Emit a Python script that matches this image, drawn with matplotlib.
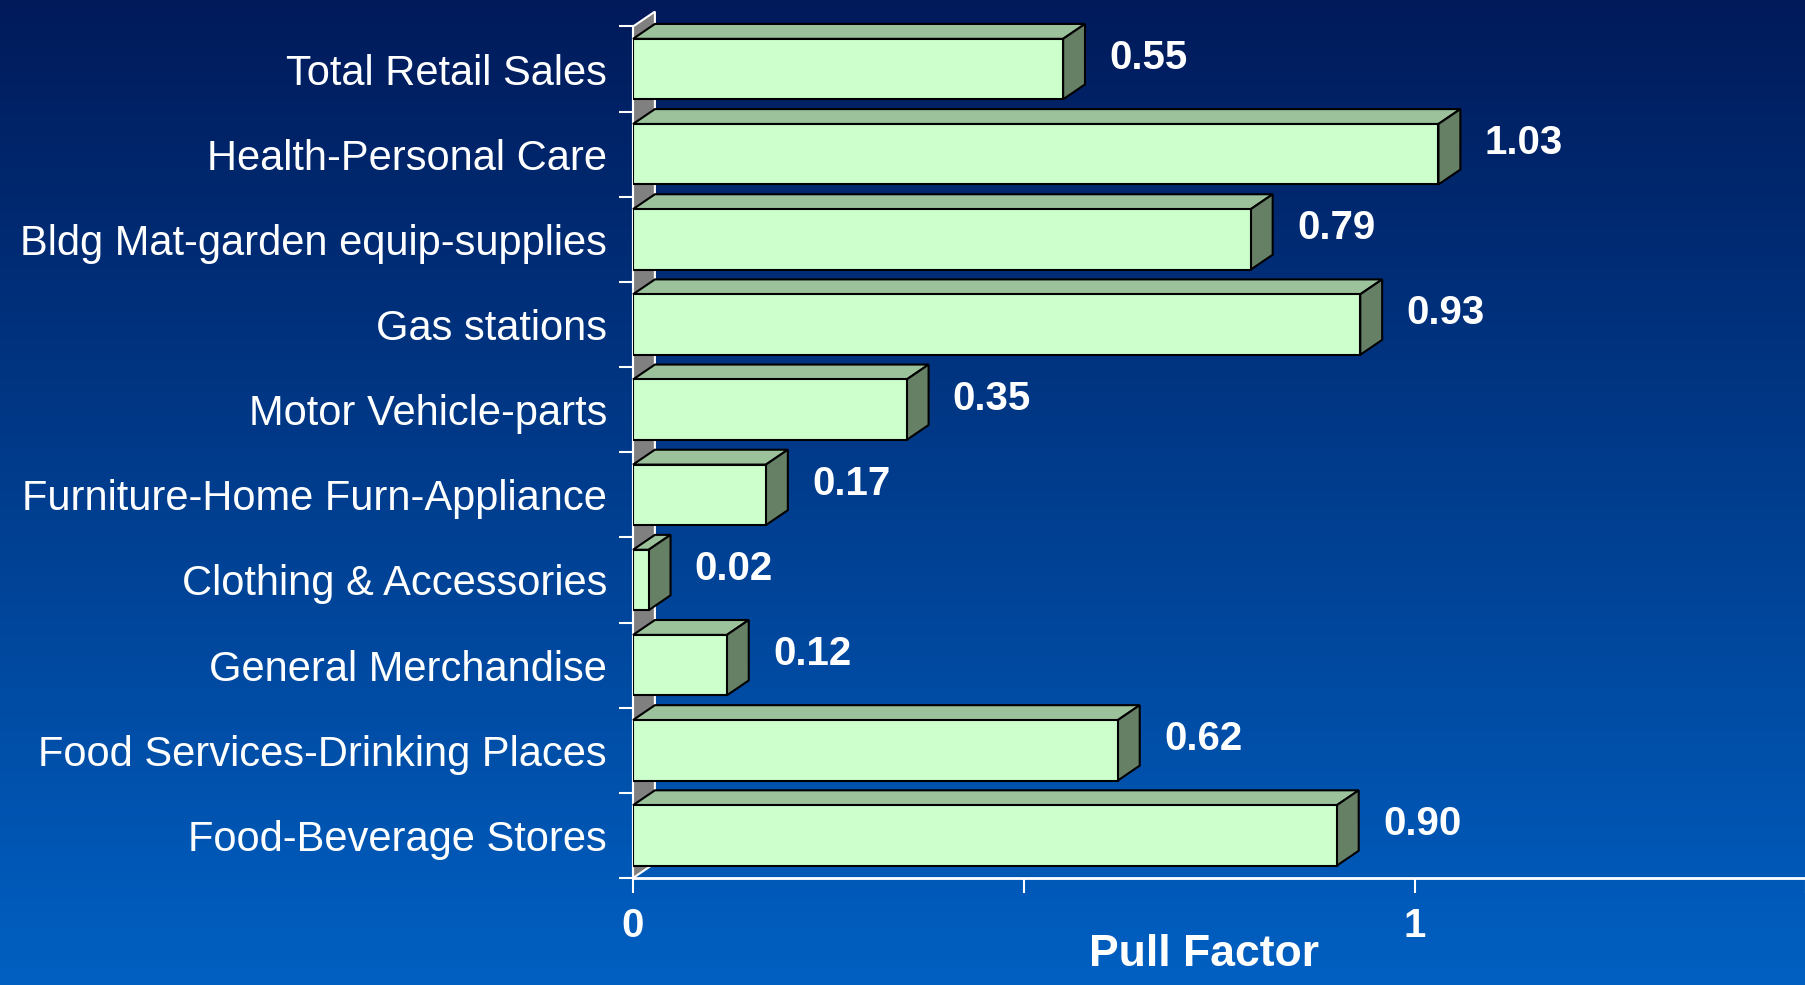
import numpy as np
import matplotlib.pyplot as plt
from matplotlib import font_manager
from matplotlib.patches import Polygon
from matplotlib.colors import LinearSegmentedColormap

categories = [
    "Total Retail Sales",
    "Health-Personal Care",
    "Bldg Mat-garden equip-supplies",
    "Gas stations",
    "Motor Vehicle-parts",
    "Furniture-Home Furn-Appliance",
    "Clothing & Accessories",
    "General Merchandise",
    "Food Services-Drinking Places",
    "Food-Beverage Stores",
]
pull_factor = [0.55, 1.03, 0.79, 0.93, 0.35, 0.17, 0.02, 0.12, 0.62, 0.90]
x_major = [0, 1]
x_minor = [0.5, 1.5]

FRONT = "#ccffcc"
TOP = "#9bc29b"
SIDE = "#668066"
WALL = "#808080"

# condensed font for the category names if there is one
names = {f.name for f in font_manager.fontManager.ttflist}
if "Liberation Sans Narrow" in names:
    cat_family, cat_size = ["Liberation Sans Narrow", "Liberation Sans"], 34
else:
    cat_family, cat_size = ["Liberation Sans"], 30

plt.rcParams["font.family"] = ["Liberation Sans", "DejaVu Sans"]

fig = plt.figure(figsize=(18.06, 9.85), dpi=100)

# background gradient
bg = fig.add_axes([0, 0, 1, 1], zorder=-10)
cmap = LinearSegmentedColormap.from_list("bg", ["#001a5a", "#0060c2"])
bg.imshow(np.linspace(0, 1, 256).reshape(-1, 1), aspect="auto", cmap=cmap,
          extent=[0, 1, 0, 1], origin="upper")
bg.axis("off")

ax = fig.add_axes([0.3505, 0.1086, 0.6495, 0.8645])
ax.patch.set_alpha(0)

n = len(categories)
ypos = np.arange(n)[::-1]
h = 0.71     # bar thickness
dx = 0.028   # 3d depth, x data units
dy = 0.175   # 3d depth, category units

# side wall
wall = Polygon([(0, -0.5), (dx, -0.5 + dy), (dx, n - 0.5 + dy), (0, n - 0.5)],
               fc=WALL, ec="white", lw=1.5, zorder=1, clip_on=False)
ax.add_patch(wall)

ax.barh(ypos, pull_factor, height=h, color=FRONT, edgecolor="black",
        linewidth=1.5, zorder=4)
for y, v in zip(ypos, pull_factor):
    t = y + h / 2
    b = y - h / 2
    ax.add_patch(Polygon([(0, t), (dx, t + dy), (v + dx, t + dy), (v, t)],
                         fc=TOP, ec="black", lw=1.5, zorder=3, clip_on=False))
    ax.add_patch(Polygon([(v, b), (v, t), (v + dx, t + dy), (v + dx, b + dy)],
                         fc=SIDE, ec="black", lw=1.5, zorder=3, clip_on=False))
    ax.text(v + dx + 0.031, y + 0.13, f"{v:.2f}", color="white",
            fontsize=29, fontweight="bold", va="center", ha="left")

ax.set_xlim(0, 1.5)
ax.set_ylim(-0.5, n - 0.5)

for s in ["top", "right"]:
    ax.spines[s].set_visible(False)
ax.spines["left"].set_color("white")
ax.spines["left"].set_linewidth(1.5)
ax.spines["bottom"].set_color("white")
ax.spines["bottom"].set_linewidth(2)

ax.set_yticks(ypos)
ax.set_yticklabels(categories, family=cat_family, fontsize=cat_size, color="white")
ax.set_yticks(np.arange(-0.5, n, 1), minor=True)
ax.tick_params(axis="y", which="major", length=0, pad=18.7)
ax.tick_params(axis="y", which="minor", length=10, width=1.5, color="white")

ax.set_xticks(x_major)
ax.set_xticklabels([str(v) for v in x_major], fontsize=29, fontweight="bold",
                   color="white")
ax.set_xticks(x_minor, minor=True)
ax.tick_params(axis="x", which="both", length=11, width=1.5, color="white", pad=10)

ax.set_xlabel("Pull Factor", fontsize=32, fontweight="bold", color="white")
ax.xaxis.set_label_coords(0.487, -0.066)

fig.savefig("out.png", dpi=100)
